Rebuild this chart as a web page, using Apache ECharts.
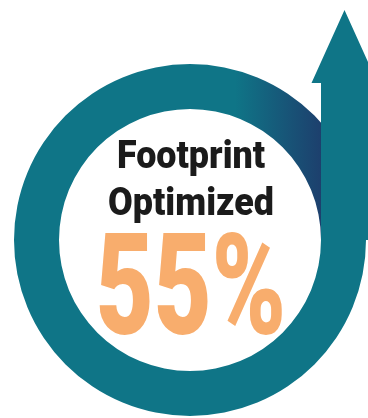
<!DOCTYPE html>
<html>
<head>
<meta charset="utf-8">
<script src="https://cdn.jsdelivr.net/npm/echarts@6/dist/echarts.min.js"></script>
<style>
html,body{margin:0;padding:0;background:#fff;}
#chart{width:368px;height:418px;}
</style>
</head>
<body>
<div id="chart"></div>
<script>
// ---- data ----
const segmentNames = ['Upper arc', 'Ring'];
const segmentValues = [25, 75];
const titleLines = ['Footprint', 'Optimized'];
const percentValue = [55];

// ---- layout ----
const cx = 190, cy = 240, rIn = 131, rOut = 176;
const TEAL = '#0F7587', NAVY = '#1D3F6D', ORANGE = '#F8AD6D', INK = '#1b1b1b';

const chart = echarts.init(document.getElementById('chart'), null, {renderer: 'canvas'});

const shaftL = cx + rIn, shaftR = cx + rOut + 2;
const shaftMid = (shaftL + shaftR) / 2;
const headBase = 83, headTip = 10, headHalf = 33;

chart.setOption({
  animation: false,
  series: [{
    type: 'pie',
    silent: true,
    center: [cx, cy],
    radius: [rIn, rOut],
    startAngle: 90,
    clockwise: true,
    label: {show: false},
    labelLine: {show: false},
    itemStyle: {borderWidth: 0},
    emphasis: {disabled: true},
    data: segmentNames.map((n, i) => ({
      name: n,
      value: segmentValues[i],
      itemStyle: {
        color: i === 0
          ? new echarts.graphic.LinearGradient(235, 0, 322, 0, [
              {offset: 0, color: TEAL}, {offset: 1, color: NAVY}], true)
          : TEAL
      }
    }))
  }],
  graphic: [
    {
      type: 'polygon',
      silent: true,
      z: 10,
      shape: {points: [
        [shaftMid - headHalf, headBase], [shaftMid, headTip], [shaftMid + headHalf, headBase],
        [shaftR, headBase], [shaftR, cy], [shaftL, cy], [shaftL, headBase]
      ]},
      style: {fill: TEAL}
    },
    {
      type: 'text', z: 20, x: cx + 1, y: 158, scaleX: 0.92,
      style: {text: titleLines[0], font: '900 39px Roboto', fill: INK, align: 'center', verticalAlign: 'middle'}
    },
    {
      type: 'text', z: 20, x: cx + 1, y: 205, scaleX: 0.92,
      style: {text: titleLines[1], font: '900 39px Roboto', fill: INK, align: 'center', verticalAlign: 'middle'}
    },
    {
      type: 'text', z: 20, x: cx + 1, y: 299, scaleX: 0.71,
      style: {text: percentValue[0] + '%', font: '900 141px Roboto', fill: ORANGE, align: 'center', verticalAlign: 'middle'}
    }
  ]
});
</script>
</body>
</html>
